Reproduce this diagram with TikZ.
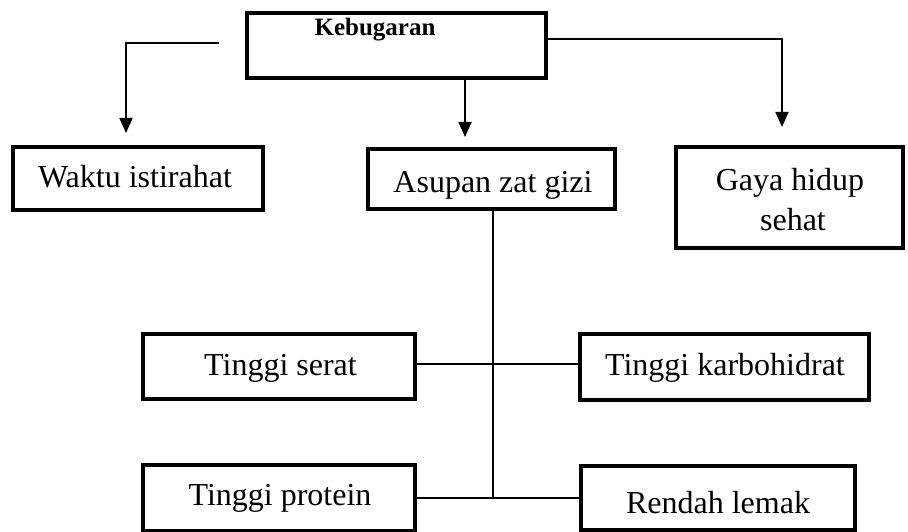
\documentclass[tikz,border=0pt]{standalone}
\usepackage{fontspec}
\setmainfont{Liberation Serif}
\usetikzlibrary{arrows.meta}
\begin{document}
\begin{tikzpicture}[x=1pt,y=-1pt,
  box/.style={draw,line width=3.2pt,inner sep=0pt},
  txt/.style={anchor=base,inner sep=0pt,font=\fontsize{32}{40}\selectfont},
  conn/.style={line width=1.8pt},
  arr/.style={conn,-{Triangle[length=15pt,width=13pt]}}]
\useasboundingbox (0,0) rectangle (908,532);
% boxes
\node[box,minimum width=299pt,minimum height=65pt] (keb) at (396.5,45.5) {};
\node[box,minimum width=250pt,minimum height=63pt] (waktu) at (138,178.5) {};
\node[box,minimum width=247pt,minimum height=60pt] (asupan) at (491.5,179) {};
\node[box,minimum width=227pt,minimum height=101pt] (gaya) at (789.5,197.5) {};
\node[box,minimum width=272pt,minimum height=65pt] (serat) at (279,366.5) {};
\node[box,minimum width=289pt,minimum height=66pt] (karbo) at (724.5,367) {};
\node[box,minimum width=272pt,minimum height=66pt] (protein) at (279,498) {};
\node[box,minimum width=274pt,minimum height=64pt] (rendah) at (718,498) {};
% texts
\node[anchor=base,inner sep=0pt,font=\bfseries\fontsize{25}{30}\selectfont] (kebtext) at (375,36) {Kebugaran};
\node[txt] (waktutext) at (135,188) {Waktu istirahat};
\node[txt] (asupantext) at (493,193) {Asupan zat gizi};
\node[txt] (gayatext1) at (790,190) {Gaya hidup};
\node[txt] (gayatext2) at (793,230) {sehat};
\node[txt] (serattext) at (280.5,375) {Tinggi serat};
\node[txt] (karbotext) at (725,375) {Tinggi karbohidrat};
\node[txt] (proteintext) at (280,505) {Tinggi protein};
\node[txt] (rendahtext) at (718,513) {Rendah lemak};
% connector points
\coordinate (l1) at (219,43);
\coordinate (l2) at (126,133);
\coordinate (m2) at (465,137);
\coordinate (r1) at (546,39);
\coordinate (r2) at (782,127);
\coordinate (j1) at (493,364);
\coordinate (j2) at (493,498);
% connectors
\draw[arr] (l1) -| (l2);
\draw[arr] (keb.south -| m2) -- (m2);
\draw[arr] (r1) -| (r2);
\draw[conn] (asupan.south -| j2) -- (j2);
\draw[conn] (serat.east |- j1) -- (karbo.west |- j1);
\draw[conn] (protein.east |- j2) -- (rendah.west |- j2);
\end{tikzpicture}
\end{document}
